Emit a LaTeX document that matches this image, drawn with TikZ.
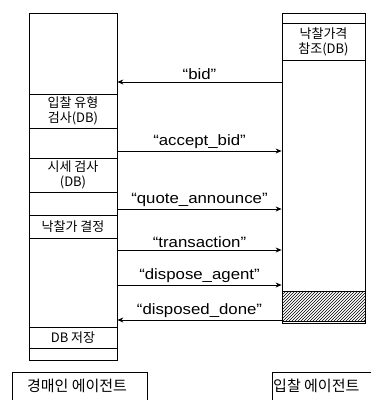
\documentclass[tikz,border=0pt]{standalone}
\usepackage{fontspec}
\setmainfont{Liberation Sans}
\newfontfamily\lblfont[FakeStretch=1.12]{Liberation Sans}
\newfontfamily\kr{Noto Sans CJK KR}
\usetikzlibrary{arrows.meta,patterns}
\begin{document}
\begin{tikzpicture}[x=1pt,y=-1pt,
  lane/.style={draw,line width=0.8pt,inner sep=0pt},
  cell/.style={draw,line width=0.8pt,inner sep=0pt,align=center,font=\kr\fontsize{13}{15}\selectfont},
  msg/.style={line width=0.8pt},
  tipr/.style={-{Stealth[length=6pt,width=5pt]}},
  tipl/.style={{Stealth[length=6pt,width=5pt]}-},
  lbl/.style={font=\lblfont\fontsize{15}{17}\selectfont,inner sep=1.5pt,anchor=south},
  agent/.style={draw,line width=0.8pt,inner sep=0pt},
  agenttext/.style={font=\kr\fontsize{15}{17}\selectfont}]
\useasboundingbox (0,0) rectangle (371,400);
\clip (0,0) rectangle (371,400);
% lifelines
\node[lane,minimum width=88pt,minimum height=347pt] (L) at (73,186.5) {};
\node[lane,minimum width=83pt,minimum height=310pt] (R) at (323.5,168) {};
% left cells
\node[cell,minimum width=88pt,minimum height=34pt] (c1) at (73,111) {입찰 유형\\검사(DB)};
\node[cell,minimum width=88pt,minimum height=34pt] (c2) at (73,175) {시세 검사\\(DB)};
\node[cell,minimum width=88pt,minimum height=23pt] (c3) at (73,226.5) {낙찰가 결정};
\node[cell,minimum width=88pt,minimum height=21pt] (c4) at (73,337.5) {DB 저장};
% right cells
\node[cell,minimum width=83pt,minimum height=37pt] (r1) at (323.5,41.5) {낙찰가격\\참조(DB)};
\node[draw,line width=0.8pt,minimum width=83pt,minimum height=30pt,inner sep=0pt,
  pattern=north east lines] (r2) at (323.5,306) {};
% messages
\draw[msg,tipl] (L.east |- 0,82) -- node[lbl] {“bid”} (R.west |- 0,82);
\draw[msg,tipr] (L.east |- 0,151) -- node[lbl] {“accept\_bid”} (R.west |- 0,151);
\draw[msg,tipr] (L.east |- 0,209) -- node[lbl] {“quote\_announce”} (R.west |- 0,209);
\draw[msg,tipr] (L.east |- 0,250) -- node[lbl] {“transaction”} (R.west |- 0,250);
\draw[msg,tipr] (L.east |- 0,285) -- node[lbl] {“dispose\_agent”} (R.west |- 0,285);
\draw[msg,tipl] (L.east |- 0,320) -- node[lbl] {“disposed\_done”} (R.west |- 0,320);
% agents
\node[agent,minimum width=135pt,minimum height=40pt,anchor=north west] (a1) at (12,372) {};
\node[agenttext] (a1t) at (77,386) {경매인 에이전트};
\node[agent,minimum width=120pt,minimum height=40pt,anchor=north west] (a2) at (272,372) {};
\node[agenttext,anchor=west,inner sep=1pt] (a2t) at (272,386) {입찰 에이전트};
\end{tikzpicture}
\end{document}
